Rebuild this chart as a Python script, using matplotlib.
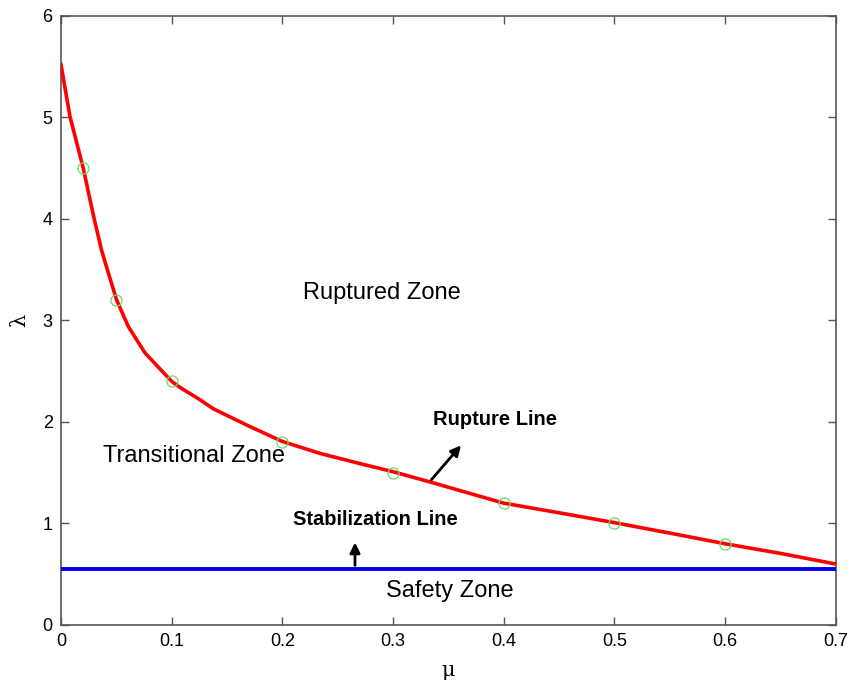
import numpy as np
import matplotlib
matplotlib.use('Agg')
import matplotlib.pyplot as plt

plt.rcParams['font.family'] = ['Liberation Sans', 'DejaVu Sans']

# rupture line (mu, lambda)
curve_mu = [0.0, 0.0081, 0.0142, 0.0201, 0.0262, 0.030, 0.0367, 0.0427, 0.0503,
            0.0608, 0.0759, 0.1, 0.1075, 0.124, 0.1376, 0.1677, 0.1994,
            0.234, 0.270, 0.300, 0.333, 0.40, 0.45, 0.499, 0.55, 0.600, 0.65, 0.7]
curve_lam = [5.52, 5.01, 4.75, 4.50, 4.19, 4.00, 3.69, 3.47, 3.20,
             2.94, 2.68, 2.40, 2.34, 2.23, 2.13, 1.97, 1.81,
             1.69, 1.59, 1.51, 1.41, 1.20, 1.105, 1.01, 0.905, 0.80, 0.705, 0.60]

# measured points (green circles)
pts_mu = [0.02, 0.05, 0.1, 0.2, 0.3, 0.4, 0.5, 0.6]
pts_lam = [4.5, 3.2, 2.4, 1.8, 1.5, 1.2, 1.0, 0.8]

# stabilization line
stab_lam = 0.55
x_range = [0, 0.7]

fig = plt.figure(figsize=(8.52, 6.83), dpi=100)
ax = fig.add_axes([0.0716, 0.085, 0.9094, 0.8916])

ax.plot(curve_mu, curve_lam, color='red', lw=2.6, zorder=3, solid_joinstyle='round')
ax.plot(pts_mu, pts_lam, 'o', mfc='none', mec='#66dd66', ms=8, mew=0.9, zorder=4)
ax.plot(x_range, [stab_lam, stab_lam], color='#0000ee', lw=2.8, zorder=3)

# arrows
ax.annotate('', xy=(0.363, 1.79), xytext=(0.333, 1.41),
            arrowprops=dict(arrowstyle='-|>,head_length=0.6,head_width=0.3', color='black', lw=2))
ax.annotate('', xy=(0.2656, 0.84), xytext=(0.2656, 0.56),
            arrowprops=dict(arrowstyle='-|>,head_length=0.6,head_width=0.3', color='black', lw=2))

ax.text(0.290, 3.27, 'Ruptured Zone', fontsize=17, ha='center', va='center')
ax.text(0.120, 1.66, 'Transitional Zone', fontsize=17, ha='center', va='center')
ax.text(0.351, 0.33, 'Safety Zone', fontsize=17, ha='center', va='center')
ax.text(0.392, 2.02, 'Rupture Line', fontsize=14.5, fontweight='bold', ha='center', va='center')
ax.text(0.284, 1.04, 'Stabilization Line', fontsize=14.5, fontweight='bold', ha='center', va='center')

ax.set_xlim(0, 0.7)
ax.set_ylim(0, 6)
ax.set_xticks(np.arange(0, 0.71, 0.1))
ax.set_xticklabels(['0', '0.1', '0.2', '0.3', '0.4', '0.5', '0.6', '0.7'])
ax.set_yticks(range(0, 7))
ax.tick_params(direction='in', top=True, right=True, length=6, width=1,
               color='#555555', labelsize=13, pad=6)
for s in ax.spines.values():
    s.set_color('#555555')
    s.set_linewidth(1.2)

ax.set_xlabel('μ', fontsize=15, family='DejaVu Serif', labelpad=8)
ax.set_ylabel('λ', fontsize=15, family='DejaVu Serif', labelpad=10)

fig.savefig('out.png', dpi=100)
